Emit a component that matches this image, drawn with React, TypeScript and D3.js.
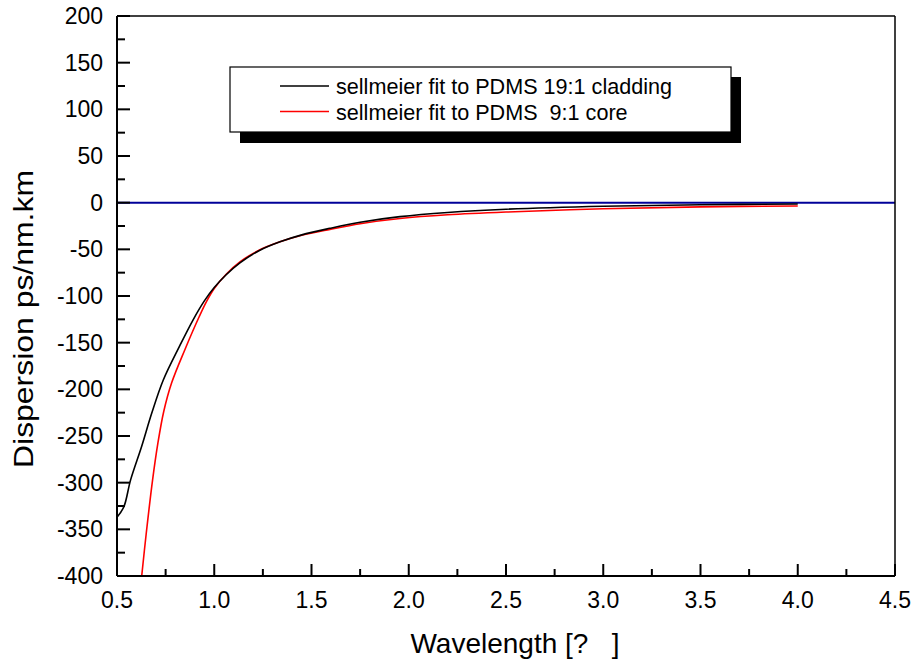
import React from 'react';
import * as d3 from 'd3';

// wavelength (um) samples
const cladX = [0.5, 0.535, 0.57, 0.627, 0.678, 0.738, 0.821, 0.89, 0.95, 1.0, 1.06, 1.132, 1.23, 1.338, 1.45, 1.595, 1.75, 1.955, 2.2, 2.5, 3.0, 3.5, 4.0];
const cladY = [-337, -326, -297, -261, -226, -190, -154, -126, -105, -91, -77.5, -64.5, -51.5, -42, -34.5, -27.5, -21, -15, -10.5, -7, -3.8, -2.2, -1.4];

const coreX = [0.627, 0.65, 0.683, 0.71, 0.74, 0.781, 0.85, 0.923, 0.96, 1.0, 1.06, 1.132, 1.23, 1.338, 1.45, 1.595, 1.75, 1.955, 2.2, 2.5, 3.0, 3.5, 4.0];
const coreY = [-400, -355, -297, -258, -224, -193, -157, -122, -106, -92, -77, -63.5, -51, -42, -35, -28.6, -22.5, -17, -13, -10, -6.5, -4.5, -3.5];

const xTicks = [0.5, 1.0, 1.5, 2.0, 2.5, 3.0, 3.5, 4.0, 4.5];
const yTicks = [200, 150, 100, 50, 0, -50, -100, -150, -200, -250, -300, -350, -400];

const legendLabels = ['sellmeier fit to PDMS 19:1 cladding', 'sellmeier fit to PDMS  9:1 core'];
const legendColors = ['#000000', '#ff0000'];

const W = 915;
const H = 666;
const left = 117;
const right = 895;
const top = 16;
const bottom = 576;
const font = '"Liberation Sans", Arial, sans-serif';

export default function App() {
  const x = d3.scaleLinear().domain([0.5, 4.5]).range([left, right]);
  const y = d3.scaleLinear().domain([-400, 200]).range([bottom, top]);

  const line = d3
    .line<[number, number]>()
    .x((d) => x(d[0]))
    .y((d) => y(d[1]))
    .curve(d3.curveCatmullRom.alpha(0.5));

  const clad = cladX.map((v, i) => [v, cladY[i]] as [number, number]);
  const core = coreX.map((v, i) => [v, coreY[i]] as [number, number]);

  const xMinor = d3.range(0.75, 4.5, 0.5);
  const yMinor = d3.range(-375, 200, 50);

  return (
    <svg width={W} height={H} style={{ position: 'absolute', left: 0, top: 0, background: '#fff' }} fontFamily={font}>
      <defs>
        <clipPath id="plot">
          <rect x={left} y={top} width={right - left} height={bottom - top} />
        </clipPath>
      </defs>

      {/* zero line */}
      <line x1={left} x2={right} y1={y(0)} y2={y(0)} stroke="#000099" strokeWidth={2} />

      <g clipPath="url(#plot)">
        <path d={line(core) || ''} fill="none" stroke="#ff0000" strokeWidth={1.6} />
        <path d={line(clad) || ''} fill="none" stroke="#000000" strokeWidth={1.6} />
      </g>

      {/* frame */}
      <line x1={left} x2={right} y1={top} y2={top} stroke="#000" strokeWidth={1.5} />
      <line x1={right} x2={right} y1={top} y2={bottom} stroke="#000" strokeWidth={1.5} />
      <line x1={left} x2={left} y1={top} y2={bottom} stroke="#000" strokeWidth={2} />
      <line x1={left} x2={right} y1={bottom} y2={bottom} stroke="#000" strokeWidth={2} />

      {/* x ticks */}
      {xTicks.map((t) => (
        <g key={'xt' + t}>
          <line x1={x(t)} x2={x(t)} y1={bottom} y2={bottom - 12} stroke="#000" strokeWidth={2} />
          <text x={x(t)} y={608} textAnchor="middle" fontSize={23}>
            {t.toFixed(1)}
          </text>
        </g>
      ))}
      {xMinor.map((t) => (
        <line key={'xm' + t} x1={x(t)} x2={x(t)} y1={bottom} y2={bottom - 7} stroke="#000" strokeWidth={2} />
      ))}

      {/* y ticks */}
      {yTicks.map((t) => (
        <g key={'yt' + t}>
          <line x1={left} x2={left + 13} y1={y(t)} y2={y(t)} stroke="#000" strokeWidth={2} />
          <text x={103} y={y(t) + 8} textAnchor="end" fontSize={23}>
            {t}
          </text>
        </g>
      ))}
      {yMinor.map((t) => (
        <line key={'ym' + t} x1={left} x2={left + 8} y1={y(t)} y2={y(t)} stroke="#000" strokeWidth={2} />
      ))}

      {/* legend */}
      <rect x={240} y={77} width={501} height={66} fill="#000" />
      <rect x={230} y={67} width={501} height={65} fill="#fff" stroke="#000" strokeWidth={1.2} />
      {legendLabels.map((l, i) => (
        <g key={l}>
          <line x1={280} x2={329} y1={86 + i * 25.5} y2={86 + i * 25.5} stroke={legendColors[i]} strokeWidth={1.5} />
          <text x={336} y={94 + i * 25.5} fontSize={21.6} style={{ whiteSpace: 'pre' }}>
            {l}
          </text>
        </g>
      ))}

      {/* axis titles */}
      <text x={515} y={653} textAnchor="middle" fontSize={28} style={{ whiteSpace: 'pre' }}>
        {'Wavelength [?   ]'}
      </text>
      <text
        transform={`translate(33, 319) rotate(-90)`}
        textAnchor="middle"
        fontSize={28}
        textLength={298}
        lengthAdjust="spacingAndGlyphs"
      >
        Dispersion ps/nm.km
      </text>
    </svg>
  );
}
